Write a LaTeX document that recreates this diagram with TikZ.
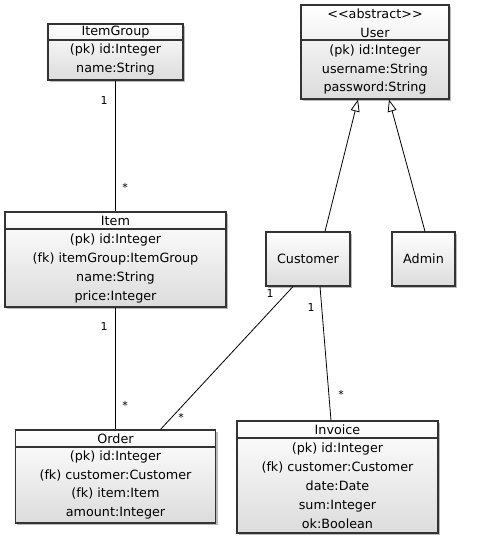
\documentclass[tikz,border=0pt]{standalone}
\usepackage{fontspec}
\setmainfont{DejaVu Sans}
\usepackage{tikz}
\usetikzlibrary{calc}
\usetikzlibrary{arrows.meta}
\usetikzlibrary{shadows}

\definecolor{boxline}{HTML}{333333}
\definecolor{boxbottom}{HTML}{DCDCDC}

\tikzset{
	cls/.style={draw=boxline, line width=1.1bp, top color=white, bottom color=boxbottom,
		inner sep=0, drop shadow={shadow xshift=2bp, shadow yshift=-2bp, fill=black!45, opacity=0.6}},
	txt/.style={inner sep=0, align=center, font=\fontsize{12.8}{19}\selectfont},
	mult/.style={inner sep=0, font=\fontsize{11}{12}\selectfont},
	assoc/.style={draw=black, line width=0.8bp},
	inherit/.style={assoc, -{Triangle[open, length=12bp, width=9bp]}}
}

\begin{document}
\begin{tikzpicture}[x=1bp, y=-1bp]
			\useasboundingbox (0,0) rectangle (480,540);

			% class boxes
			\node[cls, minimum width=135bp, minimum height=56bp] (itemgroup) at (115.5,52) {};
			\node[cls, minimum width=148bp, minimum height=94bp] (user) at (375,52) {};
			\node[cls, minimum width=221bp, minimum height=95bp] (item) at (115.5,259.5) {};
			\node[cls, minimum width=84bp, minimum height=54bp] (customer) at (308,259) {};
			\node[cls, minimum width=63bp, minimum height=54bp] (admin) at (423.5,259) {};
			\node[cls, minimum width=200bp, minimum height=93bp] (order) at (115.5,476.5) {};
			\node[cls, minimum width=201bp, minimum height=112bp] (invoice) at (337.5,477) {};

			% header lines
			\draw[boxline, line width=1.1bp](itemgroup.west |- 0,40)--(itemgroup.east |- 0,40);
			\draw[boxline, line width=1.1bp](user.west |- 0,40)--(user.east |- 0,40);
			\draw[boxline, line width=1.1bp](item.west |- 0,229)--(item.east |- 0,229);
			\draw[boxline, line width=1.1bp](order.west |- 0,447)--(order.east |- 0,447);
			\draw[boxline, line width=1.1bp](invoice.west |- 0,438)--(invoice.east |- 0,438);

			% texts
			\node[txt] (itemgroup-name) at (115.5,32) {ItemGroup};
			\node[txt] (itemgroup-attr) at (115.5,59.5) {(pk) id:Integer\\name:String};
			\node[txt] (user-name) at (375,23) {{<}{<}abstract{>}{>}\\User};
			\node[txt] (user-attr) at (375,69.5) {(pk) id:Integer\\username:String\\password:String};
			\node[txt] (item-name) at (115.5,220.5) {Item};
			\node[txt] (item-attr) at (115.5,268.5) {(pk) id:Integer\\(fk) itemGroup:ItemGroup\\name:String\\price:Integer};
			\node[txt] (customer-name) at (308,259) {Customer};
			\node[txt] (admin-name) at (423.5,259) {Admin};
			\node[txt] (order-name) at (115.5,438.5) {Order};
			\node[txt] (order-attr) at (115.5,485) {(pk) id:Integer\\(fk) customer:Customer\\(fk) item:Item\\amount:Integer};
			\node[txt] (invoice-name) at (337.5,429.5) {Invoice};
			\node[txt] (invoice-attr) at (337.5,485.5) {(pk) id:Integer\\(fk) customer:Customer\\date:Date\\sum:Integer\\ok:Boolean};

			% associations
			\draw[assoc](itemgroup.south)--(item.north);
			\draw[assoc](item.south)--(order.north);
			\draw[assoc]([xshift=-15bp]customer.south)--([xshift=45bp]order.north);
			\draw[assoc]([xshift=12bp]customer.south)--([xshift=-6.5bp]invoice.north);

			% generalisation
			\draw[inherit]([xshift=17bp]customer.north)--([xshift=-17bp]user.south);
			\draw[inherit]([xshift=1.5bp]admin.north)--([xshift=14bp]user.south);

			% multiplicities
			\node[mult] (m1) at (104,101) {1};
			\node[mult] (m2) at (125,187) {*};
			\node[mult] (m3) at (104,327) {1};
			\node[mult] (m4) at (125,405) {*};
			\node[mult] (m5) at (270,294) {1};
			\node[mult] (m6) at (181,417) {*};
			\node[mult] (m7) at (311,308) {1};
			\node[mult] (m8) at (341,394) {*};
		\end{tikzpicture}
\end{document}
